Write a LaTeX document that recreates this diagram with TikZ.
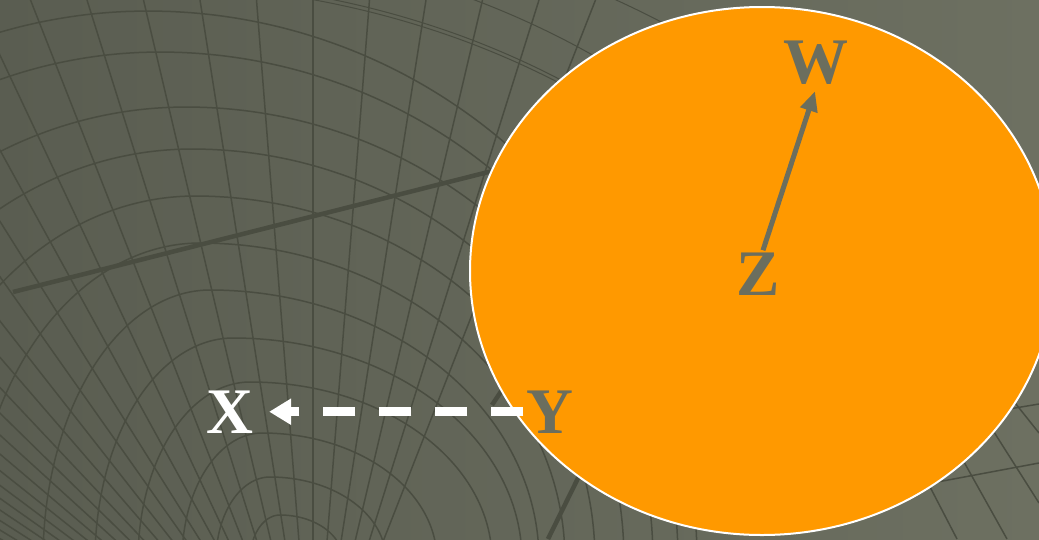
\documentclass[tikz,border=0pt]{standalone}
\usepackage{fontspec}
\setmainfont{Liberation Serif}
\usetikzlibrary{arrows.meta}
\definecolor{bgL}{HTML}{5A5D51}
\definecolor{bgR}{HTML}{6D7061}
\definecolor{gridc}{HTML}{4A4D41}
\definecolor{orng}{HTML}{FF9900}
\definecolor{txtg}{HTML}{6B6E5E}
\begin{document}
\begin{tikzpicture}[x=1pt,y=-1pt,
  gridline/.style={draw=gridc, line width=1.5pt},
  thinline/.style={draw=gridc, line width=1pt},
  thickline/.style={draw=gridc, line width=4.5pt},
  letter/.style={font=\bfseries\fontsize{65}{65}\selectfont, inner sep=0pt, anchor=base},
  dasharrow/.style={draw=white, line width=9pt, dash pattern=on 32pt off 24pt,
    -{Triangle[length=22pt,width=25pt]}},
  greyarrow/.style={draw=txtg, line width=5pt, -{Triangle[length=20pt,width=17pt]}}]
\useasboundingbox (0,0) rectangle (1039,539);
\shade[left color=bgL, right color=bgR] (0,0) rectangle (1039,539);
\begin{scope}
\clip (0,0) rectangle (1039,539);
% radial lines
\foreach \k in {-22,...,5}
  \draw[gridline] (313,720) -- ({313+56.5*\k},0);
% arcs: apex x, radius y, left x radius, right x radius
\foreach \ax/\ry/\rl/\rr in {148/549/538/549, 160/508/493/518, 186/453/430/467,
   192/411/370/432, 195/364/298/400, 200/317/228/365, 210/270/167/329,
   233/222/138/289, 250/178/112/242, 262/127/80/175, 270/83/54/116, 280/45/30/63}
{
  \draw[gridline, variable=\t, domain=180:270, samples=40, smooth]
    plot ({\ax+\rl*cos(\t)},{560+\ry*sin(\t)});
  \draw[gridline, variable=\t, domain=270:360, samples=40, smooth]
    plot ({\ax+\rr*cos(\t)},{560+\ry*sin(\t)});
}
\foreach \ax/\ry/\rr in {140/580/750, 140/576/748, 140/620/780, 140/660/900}
  \draw[thinline, variable=\t, domain=270:322, samples=30, smooth]
    plot ({\ax+\rr*cos(\t)},{560+\ry*sin(\t)});
% bottom right grid
\draw[gridline] (900,489) -- (1039,463);
\draw[gridline] (985,413) -- (1039,404);
\draw[gridline] (915,458) -- (957,539);
\draw[gridline] (945,428) -- (1007,539);
\draw[gridline] (980,410) -- (1039,503);
\draw[gridline] (1000,384) -- (1039,433);
% thick lines
\draw[thickline] (13,292) -- (520,164);
\draw[thickline] (492,405) -- (512,375);
\draw[thickline] (548,539) -- (584,466);
\end{scope}
% orange ellipse
\draw[fill=orng, draw=white, line width=2pt] (762,271) ellipse [x radius=292, y radius=264];
% labels
\node[letter, text=txtg] (W) at (816,83) {W};
\node[letter, text=txtg] (Z) at (758,295) {Z};
\node[letter, text=txtg] (Y) at (550,433) {Y};
\node[letter, text=white] (X) at (230,433) {X};
% connectors
\draw[greyarrow] ([xshift=5pt,yshift=2pt]Z.north) -- ([xshift=-1pt,yshift=-7pt]W.south);
\draw[dasharrow, shorten <=3pt, shorten >=15.5pt] (Y.west) -- (X.east);
\end{tikzpicture}
\end{document}
